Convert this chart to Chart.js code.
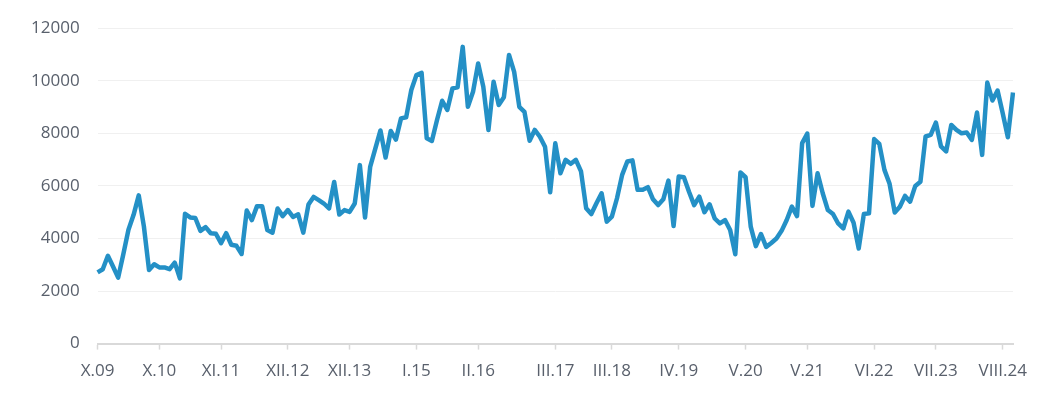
<!DOCTYPE html>
<html>
<head>
<meta charset="utf-8">
<script src="https://cdn.jsdelivr.net/npm/chart.js@4/dist/chart.umd.min.js"></script>
<style>
  html, body { margin: 0; padding: 0; background: #fff; }
  #wrap { width: 1058px; height: 395px; position: relative; }
</style>
</head>
<body>
<div id="wrap"><canvas id="chart"></canvas></div>
<script>
/* ---- data (monthly, X.2009 - VIII.2024) ---- */
var tickLabels = ["X.09", "X.10", "XI.11", "XII.12", "XII.13", "I.15", "II.16", "III.17",
                  "III.18", "IV.19", "V.20", "V.21", "VI.22", "VII.23", "VIII.24"];
var tickPos = [0, 12, 24, 37, 49, 62, 74, 89, 100, 113, 126, 138, 151, 163, 176];

var values = [
    2710, 2830, 3340, 2930, 2510, 3400, 4330, 4900, 5640, 4460,
    2800, 3020, 2900, 2900, 2830, 3080, 2480, 4940, 4800, 4780,
    4290, 4430, 4200, 4180, 3820, 4200, 3760, 3720, 3410, 5060,
    4700, 5230, 5230, 4320, 4220, 5140, 4850, 5080, 4820, 4920,
    4220, 5290, 5580, 5460, 5330, 5140, 6150, 4910, 5080, 5010,
    5330, 6790, 4800, 6720, 7420, 8110, 7080, 8090, 7760, 8570,
    8610, 9650, 10220, 10300, 7810, 7710, 8510, 9240, 8890, 9710,
    9750, 11290, 9010, 9580, 10660, 9770, 8130, 9960, 9080, 9370,
    10980, 10340, 9010, 8820, 7720, 8130, 7870, 7490, 5760, 7620,
    6480, 6990, 6840, 6990, 6550, 5150, 4930, 5340, 5720, 4640,
    4830, 5530, 6420, 6930, 6970, 5850, 5850, 5950, 5490, 5270,
    5490, 6200, 4470, 6360, 6330, 5780, 5270, 5590, 5000, 5300,
    4760, 4570, 4700, 4320, 3400, 6510, 6330, 4450, 3710, 4170,
    3680, 3830, 4000, 4290, 4700, 5210, 4850, 7630, 7990, 5240,
    6480, 5720, 5080, 4930, 4570, 4380, 5020, 4600, 3620, 4930,
    4960, 7780, 7600, 6610, 6080, 4990, 5210, 5620, 5400, 6000,
    6160, 7880, 7940, 8410, 7500, 7310, 8320, 8130, 8000, 8030,
    7750, 8790, 7180, 9930, 9250, 9630, 8760, 7850, 9550
];

var categories = values.map(function (v, i) {
    var k = tickPos.indexOf(i);
    return k >= 0 ? tickLabels[k] : "";
});

var textColor = "#59606c";
var font = { family: "'Open Sans', sans-serif", size: 17 };

var ctx = document.getElementById("chart");

var myChart = new Chart(ctx, {
    type: 'line',
    data: {
        labels: categories,
        datasets: [{
            data: values,
            borderColor: "#2490c6",
            borderWidth: 4.5,
            borderJoinStyle: "round",
            pointRadius: 0,
            tension: 0,
            fill: false
        }]
    },
    options: {
        responsive: true,
        maintainAspectRatio: false,
        animation: false,
        layout: { padding: { left: 13, right: 45, top: 27, bottom: 3 } },
        plugins: {
            legend: { display: false },
            tooltip: { enabled: false }
        },
        scales: {
            x: {
                type: 'category',
                offset: false,
                afterBuildTicks: function (scale) {
                    scale.ticks = scale.ticks.filter(function (t) {
                        return tickPos.indexOf(t.value) >= 0;
                    });
                },
                grid: {
                    drawOnChartArea: false,
                    drawTicks: true,
                    tickLength: 6,
                    tickColor: "#d9d9d9",
                    tickWidth: 1.5
                },
                border: { color: "#d9d9d9", width: 2 },
                ticks: {
                    autoSkip: false,
                    maxRotation: 0,
                    padding: 11,
                    color: textColor,
                    font: font
                }
            },
            y: {
                min: 0,
                max: 12000,
                grid: { color: "#f0f0f0", drawTicks: false },
                border: { display: false },
                ticks: {
                    stepSize: 2000,
                    padding: 18,
                    color: textColor,
                    font: font,
                    callback: function (v) { return String(v); }
                }
            }
        }
    }
});
</script>
</body>
</html>
